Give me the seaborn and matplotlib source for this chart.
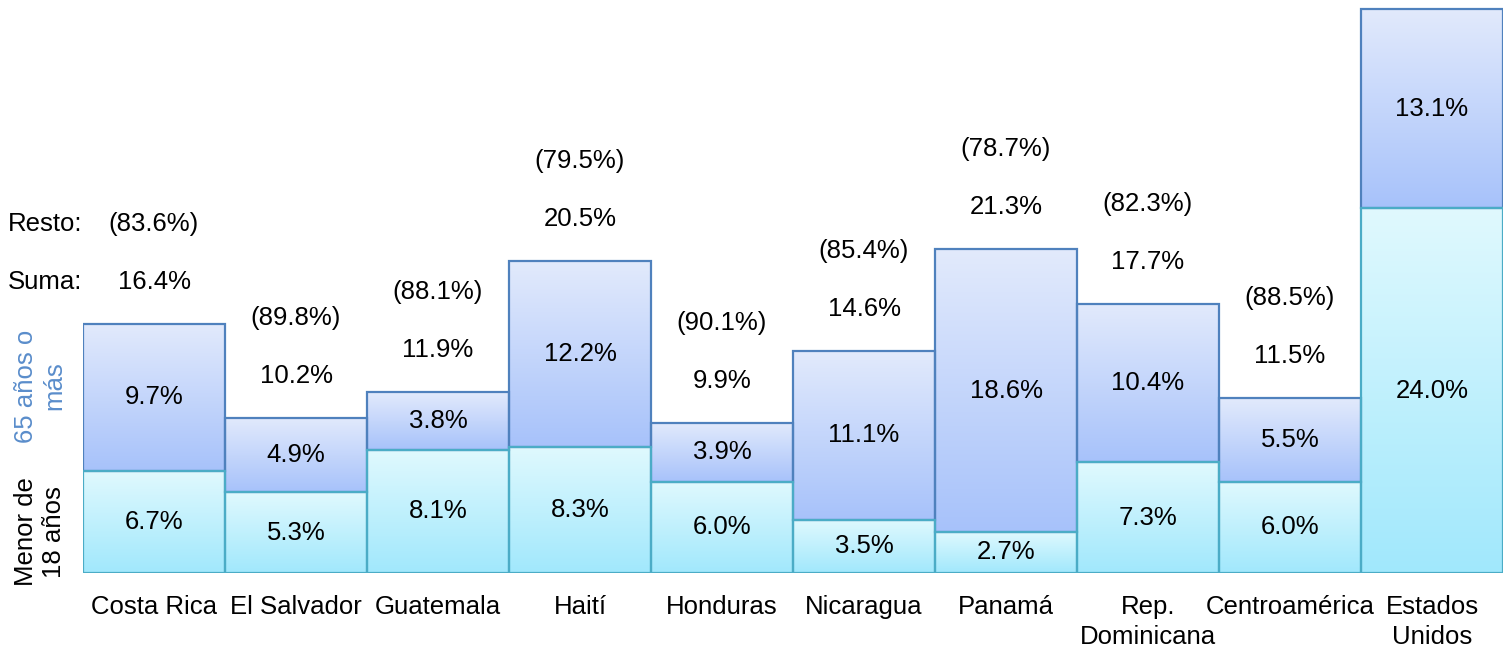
import numpy as np
import pandas as pd
import seaborn as sns
import matplotlib.pyplot as plt
from matplotlib.colors import LinearSegmentedColormap

paises = ["Costa Rica", "El Salvador", "Guatemala", "Haití", "Honduras", "Nicaragua",
          "Panamá", "Rep.\nDominicana", "Centroamérica", "Estados\nUnidos"]
menor_18 = [6.7, 5.3, 8.1, 8.3, 6.0, 3.5, 2.7, 7.3, 6.0, 24.0]
mayor_65 = [9.7, 4.9, 3.8, 12.2, 3.9, 11.1, 18.6, 10.4, 5.5, 13.1]
suma = [16.4, 10.2, 11.9, 20.5, 9.9, 14.6, 21.3, 17.7, 11.5, 37.1]
resto = [83.6, 89.8, 88.1, 79.5, 90.1, 85.4, 78.7, 82.3, 88.5, None]

df = pd.DataFrame({"pais": paises, "menor": menor_18, "mayor": mayor_65, "suma": suma})

sns.set_style("white")
plt.rcParams['font.family'] = ['Liberation Sans', 'DejaVu Sans']
plt.rcParams['text.color'] = 'black'
plt.rcParams['xtick.color'] = 'black'
plt.rcParams['xtick.labelcolor'] = 'black'
fs = 18.5

fig = plt.figure(figsize=(15.03, 6.48), dpi=100)
ax = fig.add_axes([83 / 1503, 75 / 648, 1420 / 1503, 573 / 648])

# total bars first (become the 65+ segment), then the under-18 segment
sns.barplot(data=df, x="pais", y="suma", width=1, ax=ax, color="white")
sns.barplot(data=df, x="pais", y="menor", width=1, ax=ax, color="white")

n = len(paises)
cm_top = LinearSegmentedColormap.from_list("top", ["#a7c2fa", "#e2eafc"])
cm_bot = LinearSegmentedColormap.from_list("bot", ["#a1e8fc", "#e0f9fe"])
grad = np.linspace(0, 1, 256).reshape(-1, 1)

for i, p in enumerate(ax.patches):
    if i < n:
        # move the top segment to sit on the under-18 part
        p.set_y(menor_18[i])
        p.set_height(mayor_65[i])
        cmap, edge = cm_top, "#4f81bd"
    else:
        cmap, edge = cm_bot, "#4bacc6"
    p.set_facecolor("none")
    p.set_edgecolor(edge)
    p.set_linewidth(1.6)
    p.set_zorder(3)
    x0, y0, w, h = p.get_x(), p.get_y(), p.get_width(), p.get_height()
    im = ax.imshow(grad, extent=[x0, x0 + w, y0, y0 + h], origin="lower",
                   aspect="auto", cmap=cmap, zorder=2)
    im.set_clip_path(p)

ax.set_xlim(-0.5, n - 0.5)
ax.set_ylim(0, 37.7)

# labels inside segments
for i in range(n):
    ax.text(i, menor_18[i] / 2, f"{menor_18[i]:.1f}%", ha="center", va="center",
            fontsize=fs, zorder=4)
    ax.text(i, menor_18[i] + mayor_65[i] / 2, f"{mayor_65[i]:.1f}%", ha="center",
            va="center", fontsize=fs, zorder=4)
    if resto[i] is not None:
        ax.annotate(f"{suma[i]:.1f}%", xy=(i, suma[i]), xytext=(0, 42),
                    textcoords="offset pixels", ha="center", va="center", fontsize=fs,
                    annotation_clip=False)
        ax.annotate(f"({resto[i]:.1f}%)", xy=(i, suma[i]), xytext=(0, 100),
                    textcoords="offset pixels", ha="center", va="center", fontsize=fs,
                    annotation_clip=False)

ax.annotate("Suma:", xy=(-0.5, suma[0]), xytext=(-75, 42), textcoords="offset pixels",
            ha="left", va="center", fontsize=fs, annotation_clip=False)
ax.annotate("Resto:", xy=(-0.5, suma[0]), xytext=(-75, 100), textcoords="offset pixels",
            ha="left", va="center", fontsize=fs, annotation_clip=False)

fig.text(40 / 1503, 1 - 532 / 648, "Menor de\n18 años", rotation=90, ha="center",
         va="center", multialignment="center", fontsize=fs)
fig.text(40 / 1503, 1 - 386 / 648, "65 años o\nmás", rotation=90, ha="center",
         va="center", multialignment="center", fontsize=fs, color="#5a8dcb")

ax.set_xlabel("")
ax.set_ylabel("")
ax.set_yticks([])
ax.tick_params(axis="x", length=0, pad=16, labelsize=fs, labelcolor="black")
for t in ax.get_xticklabels():
    t.set_linespacing(1.3)
sns.despine(ax=ax, left=True, bottom=True)

fig.savefig("out.png", dpi=100)
